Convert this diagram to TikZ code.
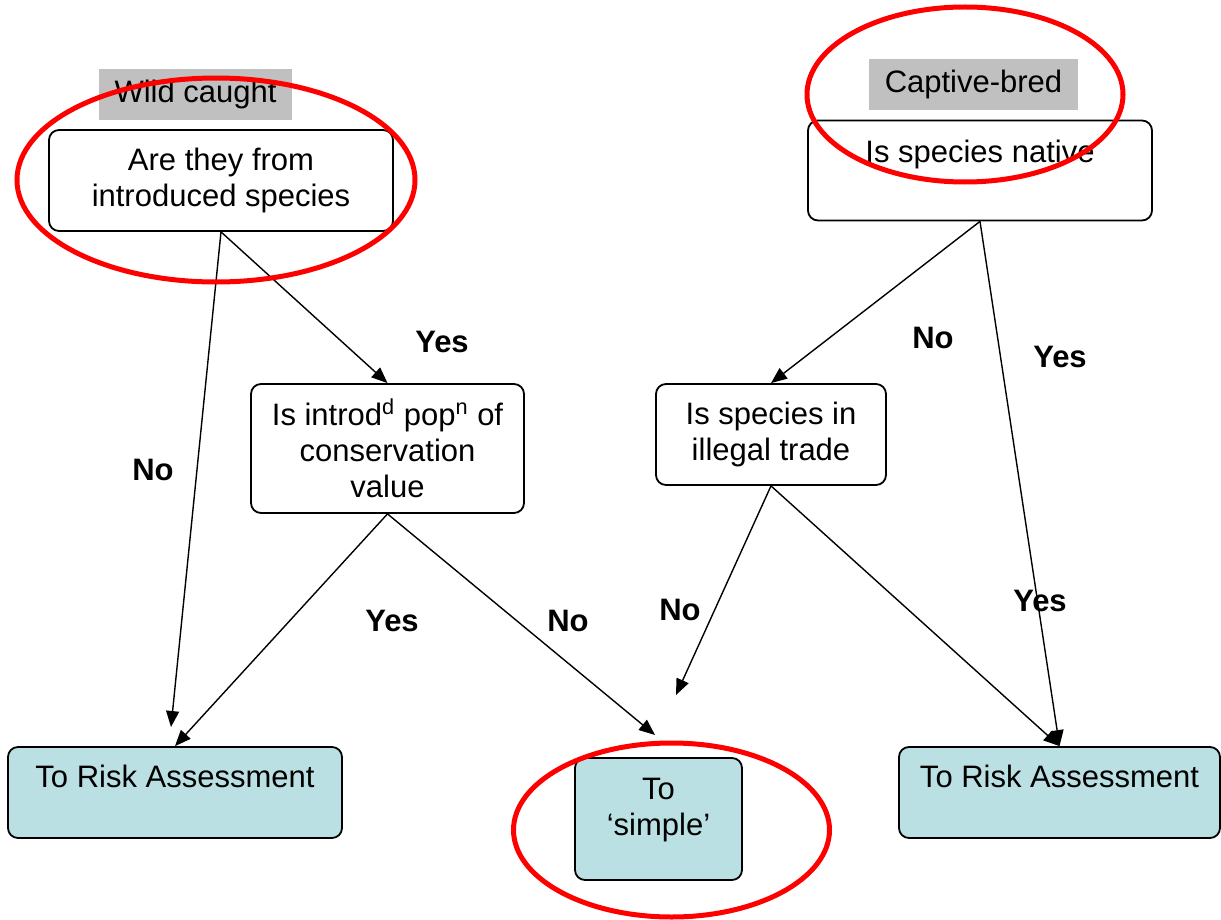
\documentclass[tikz,border=0pt]{standalone}
\usepackage{fontspec}
\setmainfont{Liberation Sans}
\usetikzlibrary{arrows.meta}
\definecolor{boxblue}{HTML}{BBE0E3}
\definecolor{taggrey}{HTML}{C0C0C0}
\newcommand{\up}[1]{\textsuperscript{#1}}

\begin{document}
\begin{tikzpicture}[x=0.5pt,y=-0.5pt,
		every node/.style={font=\fontsize{15.5}{18}\selectfont},
		question/.style={draw,rounded corners=5pt,line width=0.9pt,align=center,inner sep=0pt},
		target/.style={question,fill=boxblue},
		tag/.style={fill=taggrey,inner sep=0pt},
		answer/.style={font=\fontsize{15.5}{18}\selectfont\bfseries},
		flow/.style={line width=0.7pt,-{Triangle[length=8pt,width=6.5pt]}},
		ring/.style={draw=red,line width=2.5pt}]
	\useasboundingbox (0,0) rectangle (1221,920);
	% headings
	\node[tag,minimum width=96.5pt,minimum height=25.5pt] (wild) at (195.5,94.5) {Wild caught};
	\node[tag,minimum width=104.5pt,minimum height=25.5pt] (captive) at (973.5,84.5) {Captive-bred};
	% questions
	\node[question,minimum width=172pt,minimum height=50.5pt] (intro) at (221,180.5) {Are they from\\introduced species};
	\node[question,minimum width=172pt,minimum height=50pt] (native) at (980,170.5) {Is species native\\[1.5pt]\mbox{}};
	\node[question,minimum width=136.5pt,minimum height=64.5pt] (cons) at (387.5,448.5) {Is introd\up{d} pop\up{n} of\\conservation\\value};
	\node[question,minimum width=115pt,minimum height=50.5pt] (illegal) at (771,434.5) {Is species in\\illegal trade};
	% outcomes
	\node[target,minimum width=167pt,minimum height=45.5pt] (riskl) at (175,792.5) {To Risk Assessment\\[-1.5pt]\mbox{}};
	\node[target,minimum width=83.5pt,minimum height=61pt] (simple) at (658.5,819) {To\\‘simple’\\[-6pt]\mbox{}};
	\node[target,minimum width=160.5pt,minimum height=45.5pt] (riskr) at (1059.5,792.5) {To Risk Assessment\\[-1.5pt]\mbox{}};
	% free ends
	\coordinate (endl) at (171,727);
	\coordinate (ends) at (655,735);
	\coordinate (endi) at (676,695);
	\path[flow]
	(intro.south) edge (endl)
		edge (cons.north)
	(cons.south) edge (riskl.north)
		edge (ends)
	(native.south) edge (illegal.north)
		edge (riskr.north)
	(illegal.south) edge (endi)
		edge (riskr.north);
	% answers
	\node[answer] (a1) at (153,470) {No};
	\node[answer] (a2) at (442,342) {Yes};
	\node[answer] (a3) at (392,621) {Yes};
	\node[answer] (a4) at (568,621) {No};
	\node[answer] (a5) at (933,338) {No};
	\node[answer] (a6) at (1060,357) {Yes};
	\node[answer] (a7) at (680,610) {No};
	\node[answer] (a8) at (1040,601) {Yes};
	% red rings
	\draw[ring] (216,180) ellipse [x radius=99.5pt,y radius=51pt];
	\draw[ring] (965,94.5) ellipse [x radius=79pt,y radius=43.75pt];
	\draw[ring] (671.5,830) ellipse [x radius=79pt,y radius=43.5pt];
\end{tikzpicture}
\end{document}
